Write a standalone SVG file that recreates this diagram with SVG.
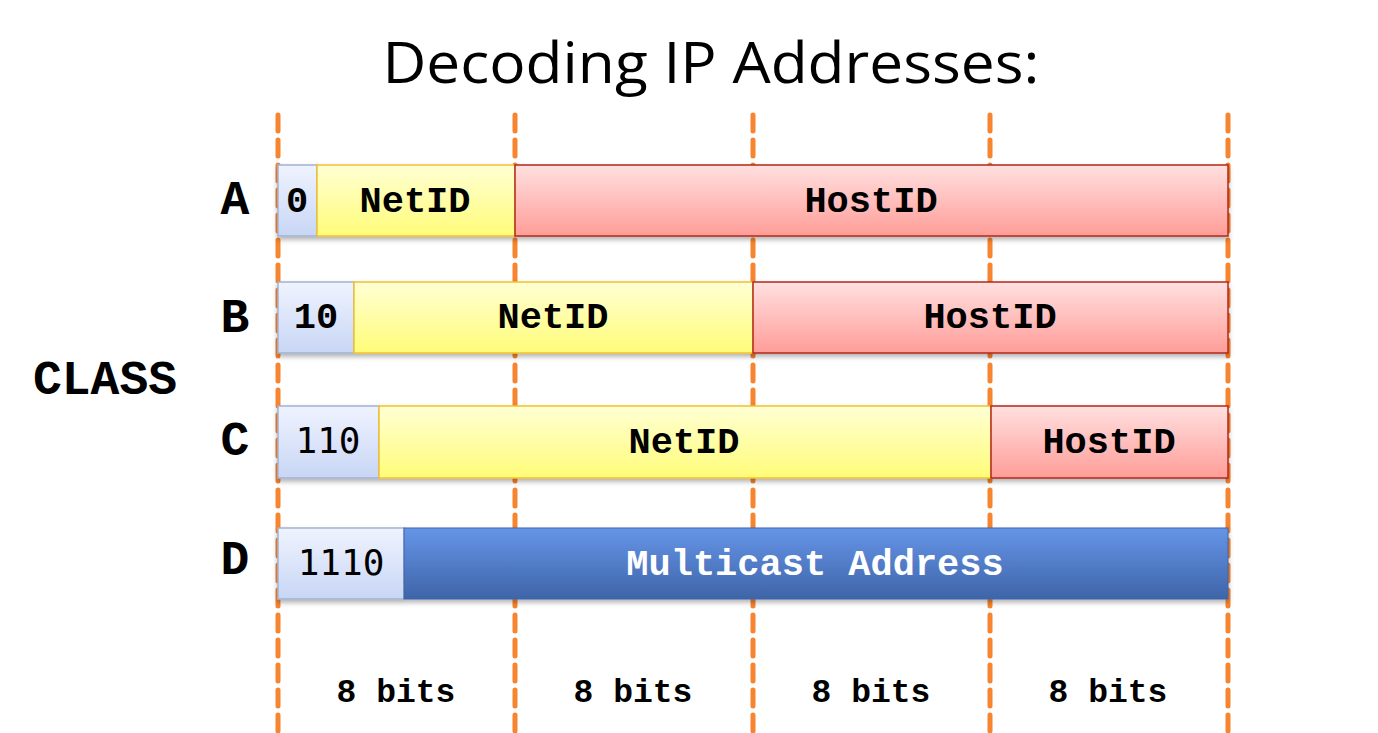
<svg xmlns="http://www.w3.org/2000/svg" width="1378" height="733" viewBox="0 0 1378 733">
<defs>
<linearGradient id="gBit" x1="0" y1="0" x2="0" y2="1"><stop offset="0" stop-color="#EFF3FE"/><stop offset="1" stop-color="#C8D6F5"/></linearGradient>
<linearGradient id="gNet" x1="0" y1="0" x2="0" y2="1"><stop offset="0" stop-color="#FFFFD4"/><stop offset="1" stop-color="#FFFC78"/></linearGradient>
<linearGradient id="gHost" x1="0" y1="0" x2="0" y2="1"><stop offset="0" stop-color="#FFE0E0"/><stop offset="1" stop-color="#FF9D98"/></linearGradient>
<linearGradient id="gMc" x1="0" y1="0" x2="0" y2="1"><stop offset="0" stop-color="#6595E8"/><stop offset="1" stop-color="#3F64A8"/></linearGradient>
<filter id="sh" x="-5%" y="-20%" width="110%" height="150%"><feDropShadow dx="0" dy="3" stdDeviation="2.5" flood-color="#000" flood-opacity="0.3"/></filter>
</defs>
<style>
.bit{fill:url(#gBit);stroke:#A2B2D2;stroke-width:1.5}
.net{fill:url(#gNet);stroke:#F2C12E;stroke-width:1.5}
.host{fill:url(#gHost);stroke:#B3281A;stroke-width:1.5}
.mc{fill:url(#gMc);stroke:#3F64A8;stroke-width:1}
.t{font-family:"Liberation Mono","Courier New",monospace;font-weight:bold;font-size:37px;fill:#000;text-anchor:middle}
.s{font-family:"DejaVu Sans Mono",monospace;font-size:36px;fill:#000;text-anchor:middle}
.cls{font-family:"Liberation Mono","Courier New",monospace;font-weight:bold;font-size:48px;fill:#000;text-anchor:middle}
.bits{font-family:"Liberation Mono","Courier New",monospace;font-weight:bold;font-size:33px;fill:#000;text-anchor:middle}
.dash{stroke:#F7842E;stroke-width:5;stroke-linecap:round;stroke-dasharray:16 9;fill:none}
</style>
<rect width="1378" height="733" fill="#fff"/>
<text x="711" y="83" font-family="Open Sans, sans-serif" font-size="56" text-anchor="middle" textLength="657" lengthAdjust="spacingAndGlyphs" fill="#000">Decoding IP Addresses:</text>

<g id="connectors">
<line class="dash" x1="278" y1="115" x2="278" y2="733"/>
<line class="dash" x1="515" y1="115" x2="515" y2="733"/>
<line class="dash" x1="753" y1="115" x2="753" y2="733"/>
<line class="dash" x1="990" y1="115" x2="990" y2="733"/>
<line class="dash" x1="1228" y1="115" x2="1228" y2="733"/>
</g>

<g id="rowA" filter="url(#sh)">
<rect class="bit" x="278" y="165" width="39" height="71"/>
<rect class="net" x="317" y="165" width="198" height="71"/>
<rect class="host" x="515" y="165" width="713" height="71"/>
</g>
<g id="rowA-text">
<text class="t" x="297" y="212">0</text>
<text class="t" x="415" y="212">NetID</text>
<text class="t" x="871" y="212">HostID</text>
</g>
<g id="rowB" filter="url(#sh)">
<rect class="bit" x="278" y="282" width="76" height="71"/>
<rect class="net" x="354" y="282" width="399" height="71"/>
<rect class="host" x="753" y="282" width="475" height="71"/>
</g>
<g id="rowB-text">
<text class="t" x="316" y="328">10</text>
<text class="t" x="553" y="328">NetID</text>
<text class="t" x="990" y="328">HostID</text>
</g>
<g id="rowC" filter="url(#sh)">
<rect class="bit" x="278" y="406" width="101" height="72"/>
<rect class="net" x="379" y="406" width="612" height="72"/>
<rect class="host" x="991" y="406" width="237" height="72"/>
</g>
<g id="rowC-text">
<text class="s" x="328" y="453">110</text>
<text class="t" x="684" y="453">NetID</text>
<text class="t" x="1109" y="453">HostID</text>
</g>
<g id="rowD" filter="url(#sh)">
<rect class="bit" x="278" y="528" width="126" height="71"/>
<rect class="mc" x="404" y="528" width="824" height="71"/>
</g>
<g id="rowD-text">
<text class="s" x="341" y="575">1110</text>
<text class="t" x="815" y="575" style="fill:#fff">Multicast Address</text>
</g>

<g id="labels">
<text class="cls" x="235" y="214">A</text>
<text class="cls" x="235" y="332">B</text>
<text class="cls" x="235" y="455">C</text>
<text class="cls" x="235" y="574">D</text>
<text class="cls" x="105" y="394">CLASS</text>
<text class="bits" x="396" y="702">8 bits</text>
<text class="bits" x="633" y="702">8 bits</text>
<text class="bits" x="871" y="702">8 bits</text>
<text class="bits" x="1108" y="702">8 bits</text>
</g>
</svg>
